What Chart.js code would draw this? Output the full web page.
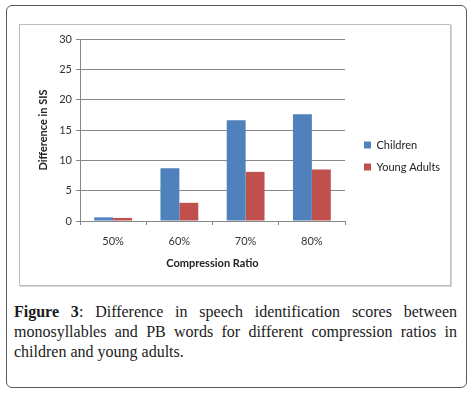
<!DOCTYPE html>
<html>
<head>
<meta charset="utf-8">
<script src="https://cdn.jsdelivr.net/npm/chart.js@4"></script>
<style>
  html, body { margin: 0; padding: 0; background: #fff; }
  body { width: 473px; height: 393px; position: relative; overflow: hidden; }
  .frame { position: absolute; left: 6px; top: 5px; width: 459px; height: 381px;
           border: 1px solid #5a5a5a; border-radius: 6px; }
  .panel { position: absolute; left: 19px; top: 24px; width: 430px; height: 260px;
           border: 1px solid #bdbdbd; box-shadow: 1px 1px 0 #d6d6d6; }
  .plot { position: absolute; left: 20px; top: 25px; width: 430px; height: 260px; }
  .caption { position: absolute; left: 14px; top: 302px; width: 443px;
             font-family: "Liberation Serif", "DejaVu Serif", serif; font-size: 16px;
             line-height: 20px; color: #1a1a1a; }
  .caption div { text-align: justify; text-align-last: justify; white-space: nowrap; }
  .caption div.last { text-align-last: left; }
</style>
</head>
<body>
<div class="frame"></div>
<div class="panel"></div>
<div class="plot"><canvas id="chart"></canvas></div>
<div class="caption">
  <div><b>Figure 3</b>: Difference in speech identification scores between</div>
  <div>monosyllables and PB words for different compression ratios in</div>
  <div class="last">children and young adults.</div>
</div>
<script>
// data
const aCategories = ["50%", "60%", "70%", "80%"];
const aChildren = [0.6, 8.7, 16.6, 17.6];
const aYoungAdults = [0.5, 3.0, 8.1, 8.5];
const aYTicks = [0, 5, 10, 15, 20, 25, 30];

const sFont = "Lato, 'Open Sans', sans-serif";
const sAxisColor = "#868686";

Chart.defaults.font.family = sFont;
Chart.defaults.color = "#333";

const ctx = document.getElementById("chart").getContext("2d");
new Chart(ctx, {
    type: "bar",
    data: {
        labels: aCategories,
        datasets: [
            {
                label: "Children",
                data: aChildren,
                backgroundColor: "#4F81BD",
                categoryPercentage: 0.571,
                barPercentage: 1
            },
            {
                label: "Young Adults",
                data: aYoungAdults,
                backgroundColor: "#C0504D",
                categoryPercentage: 0.571,
                barPercentage: 1
            }
        ]
    },
    options: {
        responsive: true,
        maintainAspectRatio: false,
        animation: false,
        layout: { padding: { top: 14, left: 0, right: 0, bottom: 12 } },
        plugins: {
            tooltip: { enabled: false },
            legend: {
                position: "right",
                maxWidth: 97,
                labels: {
                    boxWidth: 7,
                    boxHeight: 7,
                    padding: 11,
                    color: "#222",
                    font: { size: 11 }
                }
            }
        },
        scales: {
            x: {
                grid: {
                    offset: true,
                    drawOnChartArea: false,
                    drawTicks: true,
                    tickLength: 4,
                    color: sAxisColor
                },
                border: { color: sAxisColor },
                ticks: { padding: 10, font: { size: 11 }, color: "#333" },
                title: {
                    display: true,
                    text: "Compression Ratio",
                    font: { size: 11, weight: "bold" },
                    color: "#222",
                    padding: { top: 0, bottom: 3.4 }
                },
                afterFit: function (oScale) { oScale.height = 52; }
            },
            y: {
                min: 0,
                max: 30,
                afterBuildTicks: function (oScale) {
                    oScale.ticks = aYTicks.map(function (v) { return { value: v }; });
                },
                grid: { color: sAxisColor, tickLength: 4 },
                border: { color: sAxisColor },
                ticks: { padding: 4, font: { size: 11 }, color: "#333" },
                title: {
                    display: true,
                    text: "Difference in SIS",
                    font: { size: 11, weight: "bold" },
                    color: "#222",
                    padding: { top: 16.4, bottom: 0 }
                },
                afterFit: function (oScale) { oScale.width = 60; }
            },
            yGap: {
                position: "right",
                display: true,
                grid: { display: false },
                border: { display: false },
                ticks: { display: false },
                afterFit: function (oScale) { oScale.width = 8; }
            }
        }
    }
});
</script>
</body>
</html>
